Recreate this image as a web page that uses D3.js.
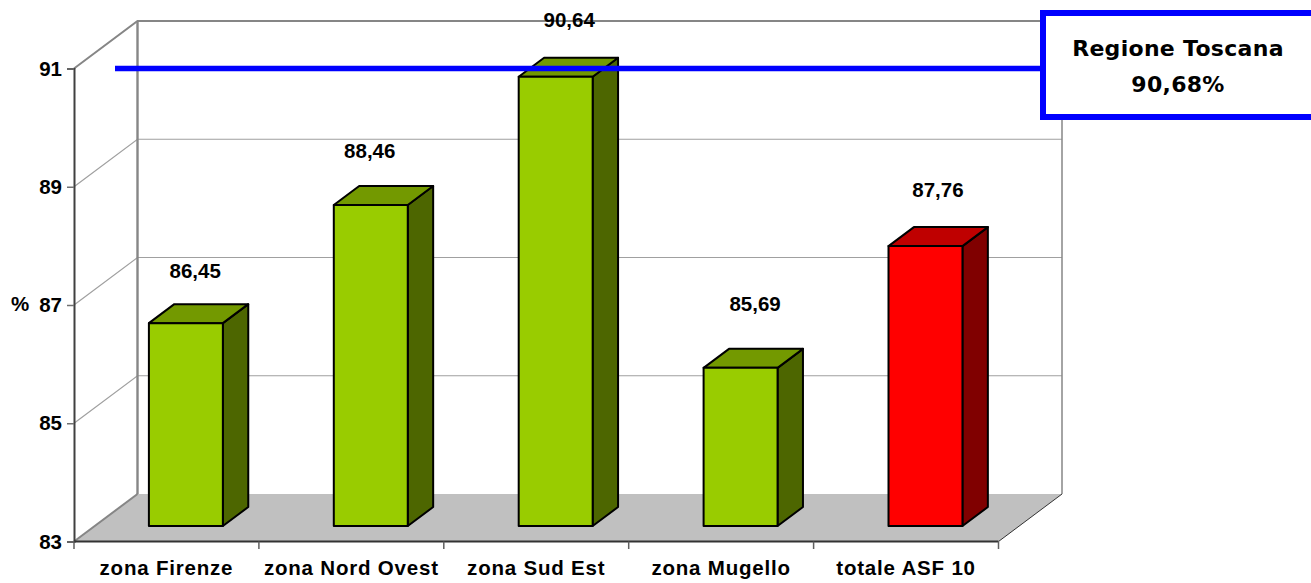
<!DOCTYPE html>
<html>
<head>
<meta charset="utf-8">
<script src="https://cdn.jsdelivr.net/npm/d3@7"></script>
<style>
  html, body { margin: 0; padding: 0; background: #fff; overflow: hidden; }
  svg { display: block; }
  text { font-family: "Liberation Sans", Arial, sans-serif; font-weight: bold; fill: #000; }
</style>
</head>
<body>
<svg id="chart" width="1311" height="583"></svg>
<script>
// Chart data
const categories = ["zona Firenze", "zona Nord Ovest", "zona Sud Est", "zona Mugello", "totale ASF 10"];
const values = [86.45, 88.46, 90.64, 85.69, 87.76];
const valueLabels = ["86,45", "88,46", "90,64", "85,69", "87,76"];
const yTicks = [83, 85, 87, 89, 91];
const gridTicks = [85, 87, 89];
const regionValue = 90.68;
const regionLines = ["Regione Toscana", "90,68%"];
const yUnit = "%";

// Fine placement of the value labels, in pixels from the centre of each bar
const labelNudgeX = [9.3, -1, 13.5, 14.5, 12.5];
const labelNudgeY = [2.6, 1.3, -2, -9, -1.4];

const palette = {
  green: { front: "#99cc00", top: "#739900", side: "#4d6600" },
  red: { front: "#ff0000", top: "#bf0000", side: "#800000" }
};
const barColors = ["green", "green", "green", "green", "red"];

const svg = d3.select("#chart");

// Front plane of the 3D box, and the shift that carries it to the back wall
const y = d3.scaleLinear().domain([83, 91]).range([541.5, 68.5]);
const x = d3.scaleBand().domain(categories).range([74, 998.5]);
const depthX = 63.5, depthY = -47.5;
const px = (xv, f) => xv + f * depthX;
const py = (v, f) => y(v) + f * depthY;
const poly = pts => pts.map(p => p.join(",")).join(" ");

// Bars stand slightly inside the box, where the vertical scale is a touch shorter
const yBar = d3.scaleLinear().domain([83, 91]).range([526, 55.6]);

const xLeft = x.range()[0], xRight = x.range()[1];

// Floor
svg.append("polygon")
  .attr("points", poly([[xLeft, y(83)], [px(xLeft, 1), py(83, 1)], [px(xRight, 1), py(83, 1)], [xRight, y(83)]]))
  .attr("fill", "#c0c0c0");

// Gridlines over the side wall and the back wall
const grid = svg.append("g").attr("fill", "none").attr("stroke", "#a0a0a0").attr("stroke-width", 1.2);
gridTicks.forEach(t => {
  grid.append("polyline")
    .attr("points", poly([[xLeft, y(t)], [px(xLeft, 1), py(t, 1)], [px(xRight, 1), py(t, 1)]]));
});

// Wall outlines
const walls = svg.append("g").attr("fill", "none").attr("stroke", "#868686");
walls.append("polyline").attr("stroke-width", 2)
  .attr("points", poly([[xLeft, y(91)], [px(xLeft, 1), py(91, 1)], [px(xRight, 1), py(91, 1)]]));
walls.append("line").attr("stroke-width", 2.4)
  .attr("x1", px(xLeft, 1)).attr("x2", px(xLeft, 1)).attr("y1", py(91, 1)).attr("y2", py(83, 1));
walls.append("line").attr("stroke-width", 1.5)
  .attr("x1", px(xRight, 1)).attr("x2", px(xRight, 1)).attr("y1", py(91, 1)).attr("y2", py(83, 1));
walls.append("line").attr("stroke-width", 2)
  .attr("x1", xLeft).attr("x2", px(xLeft, 1)).attr("y1", y(83)).attr("y2", py(83, 1));
walls.append("line").attr("stroke", "#333").attr("stroke-width", 1)
  .attr("x1", xRight).attr("x2", px(xRight, 1)).attr("y1", y(83)).attr("y2", py(83, 1));

// Axes
const yAxis = svg.append("g")
  .attr("transform", `translate(${xLeft},0)`)
  .call(d3.axisLeft(y).tickValues(yTicks).tickSize(7).tickPadding(5).tickFormat(d3.format("d")));
yAxis.select(".domain").attr("stroke", "#404040").attr("stroke-width", 2);
yAxis.selectAll(".tick line").attr("stroke", "#707070").attr("stroke-width", 1.5);
yAxis.selectAll("text").style("font-size", "20.5px").style("font-family", "'Liberation Sans'").style("font-weight", "bold").attr("fill", "#000");

const xAxis = svg.append("g").attr("transform", `translate(0,${y(83)})`);
xAxis.append("line").attr("x1", xLeft).attr("x2", xRight).attr("stroke", "#333").attr("stroke-width", 2);
const edges = categories.map(c => x(c)).concat([xRight]);
xAxis.selectAll("line.edge").data(edges).join("line").attr("class", "edge")
  .attr("x1", d => d).attr("x2", d => d).attr("y1", 0).attr("y2", 7.5)
  .attr("stroke", "#606060").attr("stroke-width", 1.5);
xAxis.selectAll("text").data(categories).join("text")
  .attr("x", d => x(d) + x.bandwidth() / 2).attr("y", 33)
  .attr("text-anchor", "middle").attr("font-size", 20.5)
  .attr("letter-spacing", 0.8)
  .text(d => d);

svg.append("text").attr("x", 11).attr("y", 311).attr("font-size", 20.5).text(yUnit);

// Bars, placed between two depths of the floor
const frontDepth = 0.306, backDepth = 0.706, barInset = 0.30;
const bars = svg.append("g").attr("stroke", "#000").attr("stroke-width", 2).attr("stroke-linejoin", "round");
categories.forEach((c, i) => {
  const v = values[i];
  const col = palette[barColors[i]];
  const x0 = px(x(c), frontDepth) + x.bandwidth() * barInset;
  const x1 = px(x(c) + x.bandwidth(), frontDepth) - x.bandwidth() * barInset;
  const dx = (backDepth - frontDepth) * depthX, dy = (backDepth - frontDepth) * depthY;
  const yb = yBar(83), yt = yBar(v);
  bars.append("polygon").attr("fill", col.side)
    .attr("points", poly([[x1, yb], [x1 + dx, yb + dy], [x1 + dx, yt + dy], [x1, yt]]));
  bars.append("polygon").attr("fill", col.top)
    .attr("points", poly([[x0, yt], [x0 + dx, yt + dy], [x1 + dx, yt + dy], [x1, yt]]));
  bars.append("rect").attr("fill", col.front)
    .attr("x", x0).attr("y", yt).attr("width", x1 - x0).attr("height", yb - yt);
  svg.append("text")
    .attr("x", (x0 + x1) / 2 + labelNudgeX[i]).attr("y", yt - 48 + labelNudgeY[i])
    .attr("text-anchor", "middle").attr("font-size", 20.5)
    .text(valueLabels[i]);
});

// Regional reference line and its callout box
const regionY = py(regionValue, 0.4);
svg.append("line").attr("x1", 115).attr("x2", 1040)
  .attr("y1", regionY).attr("y2", regionY)
  .attr("stroke", "#0000ff").attr("stroke-width", 5.5);
svg.append("rect").attr("x", 1043).attr("y", 13).attr("width", 300).attr("height", 104)
  .attr("fill", "#fff").attr("stroke", "#0000ff").attr("stroke-width", 6);
svg.selectAll("text.region").data(regionLines).join("text").attr("class", "region")
  .attr("x", 1178).attr("y", (d, i) => 55.5 + i * 36.5)
  .attr("text-anchor", "middle")
  .style("font-family", "'Comic Sans MS', 'DejaVu Sans', sans-serif")
  .attr("font-size", 22)
  .attr("letter-spacing", 0.3)
  .text(d => d);
</script>
</body>
</html>
